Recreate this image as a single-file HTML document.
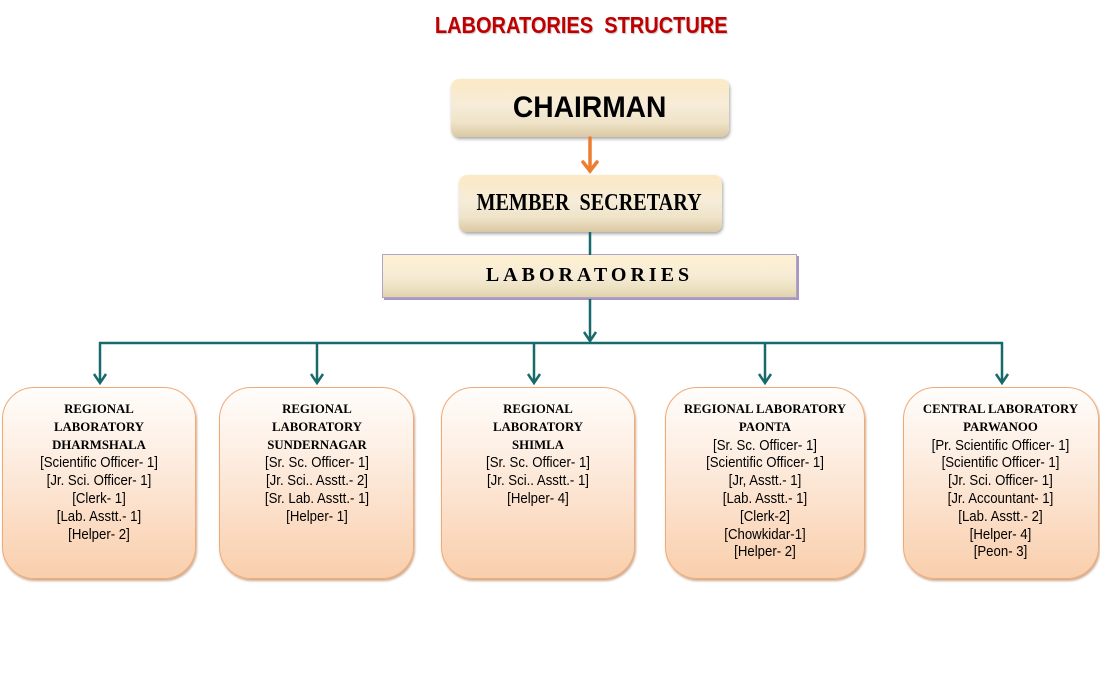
<!DOCTYPE html>
<html>
<head>
<meta charset="utf-8">
<style>
  html,body{margin:0;padding:0;}
  body{width:1100px;height:700px;background:#fff;position:relative;overflow:hidden;}
  .abs{position:absolute;}
  .title{left:0;width:1162px;top:10px;height:30px;line-height:30px;text-align:center;
    font-family:"Liberation Sans",sans-serif;font-weight:bold;font-size:23px;color:#c00000;
    white-space:pre;text-shadow:1px 1px 1px rgba(0,0,0,0.25);}
  .title span{display:inline-block;transform:scaleX(0.87);transform-origin:center;}
  .chair{left:451px;top:79px;width:278px;height:58px;border-radius:8px;
    background:linear-gradient(to bottom,#fde9c4 0%,#f6ecd8 45%,#efe3c8 75%,#dac8a2 100%);
    box-shadow:1px 2px 3px rgba(0,0,0,0.35);text-align:center;line-height:58px;
    font-family:"Liberation Sans",sans-serif;font-weight:bold;font-size:30px;color:#000;}
  .chair span{display:inline-block;transform:scaleX(0.94);}
  .ms{left:459px;top:175px;width:263px;height:57px;border-radius:8px;
    background:linear-gradient(to bottom,#fde9c4 0%,#f6ecd8 45%,#efe3c8 75%,#dac8a2 100%);
    box-shadow:1px 2px 3px rgba(0,0,0,0.35);text-align:center;line-height:57px;
    font-family:"Liberation Serif",serif;font-weight:bold;font-size:24px;color:#000;white-space:pre;}
  .ms span{display:inline-block;transform:scaleX(0.84);margin-left:-4px;}
  .labs{left:382px;top:254px;width:413px;height:42px;border:1.5px solid #b3a2c7;
    background:linear-gradient(to bottom,#fff1d2 0%,#f6ecd6 50%,#ebe0c0 80%,#e0d2ad 100%);
    box-shadow:2px 2px 0 #a898c0;text-align:center;line-height:40px;
    font-family:"Liberation Serif",serif;font-weight:bold;font-size:20px;color:#000;letter-spacing:4px;}
  .box{top:387px;height:190px;border:1.5px solid #f0aa78;border-radius:32px;
    background:linear-gradient(to bottom,#fffdfb 0%,#fdeee2 35%,#fbdac0 75%,#f9cfac 100%);
    box-shadow:1px 2px 2px rgba(160,100,50,0.55);}
  .txt{top:401px;text-align:center;color:#000;}
  .txt div{height:17.8px;line-height:17.8px;white-space:nowrap;}
  .h{font-family:"Liberation Serif",serif;font-weight:bold;font-size:12.8px;}
  .b{font-family:"Liberation Sans",sans-serif;font-size:15px;transform:scaleX(0.88);transform-origin:center;}
</style>
</head>
<body>
<div class="abs title"><span>LABORATORIES  STRUCTURE</span></div>

<div class="abs chair"><span>CHAIRMAN</span></div>
<div class="abs ms"><span>MEMBER  SECRETARY</span></div>
<div class="abs labs">LABORATORIES</div>

<svg class="abs" style="left:0;top:0" width="1100" height="700">
  <g stroke="#ed7d31" stroke-width="3.5" fill="none" stroke-linecap="round">
    <line x1="590" y1="138" x2="590" y2="171"/>
    <polyline points="583,162 590,171 597,162" stroke-linejoin="miter"/>
  </g>
  <g stroke="#17696b" stroke-width="2.5" fill="none">
    <line x1="590" y1="232" x2="590" y2="255"/>
    <line x1="590" y1="299" x2="590" y2="341"/>
    <polyline points="584,332 590,341 596,332"/>
    <line x1="99" y1="343" x2="1003" y2="343"/>
    <line x1="100" y1="342" x2="100" y2="383"/>
    <polyline points="94,374 100,383 106,374"/>
    <line x1="317" y1="343" x2="317" y2="383"/>
    <polyline points="311,374 317,383 323,374"/>
    <line x1="534" y1="343" x2="534" y2="383"/>
    <polyline points="528,374 534,383 540,374"/>
    <line x1="765" y1="343" x2="765" y2="383"/>
    <polyline points="759,374 765,383 771,374"/>
    <line x1="1002" y1="342" x2="1002" y2="383"/>
    <polyline points="996,374 1002,383 1008,374"/>
  </g>
</svg>

<div class="abs box" style="left:2px;width:192px;"></div>
<div class="abs box" style="left:219px;width:193px;"></div>
<div class="abs box" style="left:441px;width:192px;"></div>
<div class="abs box" style="left:665px;width:198px;"></div>
<div class="abs box" style="left:903px;width:194px;"></div>

<div class="abs txt" style="left:2px;width:194px;">
  <div class="h">REGIONAL</div>
  <div class="h">LABORATORY</div>
  <div class="h">DHARMSHALA</div>
  <div class="b">[Scientific Officer- 1]</div>
  <div class="b">[Jr. Sci. Officer- 1]</div>
  <div class="b">[Clerk- 1]</div>
  <div class="b">[Lab. Asstt.- 1]</div>
  <div class="b">[Helper- 2]</div>
</div>

<div class="abs txt" style="left:219px;width:196px;">
  <div class="h">REGIONAL</div>
  <div class="h">LABORATORY</div>
  <div class="h">SUNDERNAGAR</div>
  <div class="b">[Sr. Sc. Officer- 1]</div>
  <div class="b">[Jr. Sci.. Asstt.- 2]</div>
  <div class="b">[Sr. Lab. Asstt.- 1]</div>
  <div class="b">[Helper- 1]</div>
</div>

<div class="abs txt" style="left:441px;width:194px;">
  <div class="h">REGIONAL</div>
  <div class="h">LABORATORY</div>
  <div class="h">SHIMLA</div>
  <div class="b">[Sr. Sc. Officer- 1]</div>
  <div class="b">[Jr. Sci.. Asstt.- 1]</div>
  <div class="b">[Helper- 4]</div>
</div>

<div class="abs txt" style="left:665px;width:200px;">
  <div class="h">REGIONAL LABORATORY</div>
  <div class="h">PAONTA</div>
  <div class="b">[Sr. Sc. Officer- 1]</div>
  <div class="b">[Scientific Officer- 1]</div>
  <div class="b">[Jr, Asstt.- 1]</div>
  <div class="b">[Lab. Asstt.- 1]</div>
  <div class="b">[Clerk-2]</div>
  <div class="b">[Chowkidar-1]</div>
  <div class="b">[Helper- 2]</div>
</div>

<div class="abs txt" style="left:903px;width:195px;">
  <div class="h">CENTRAL LABORATORY</div>
  <div class="h">PARWANOO</div>
  <div class="b">[Pr. Scientific Officer- 1]</div>
  <div class="b">[Scientific Officer- 1]</div>
  <div class="b">[Jr. Sci. Officer- 1]</div>
  <div class="b">[Jr. Accountant- 1]</div>
  <div class="b">[Lab. Asstt.- 2]</div>
  <div class="b">[Helper- 4]</div>
  <div class="b">[Peon- 3]</div>
</div>
</body>
</html>
